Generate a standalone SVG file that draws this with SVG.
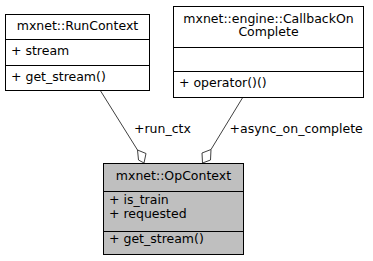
<svg xmlns="http://www.w3.org/2000/svg" width="373" height="261" viewBox="0 0 373 261">
  <style>
    .box { fill: #ffffff; stroke: #000000; stroke-width: 1; }
    .focus { fill: #bfbfbf; }
    .sep { stroke: #000000; stroke-width: 1; }
    .edge { fill: none; stroke: #404040; stroke-width: 1; }
    .head { fill: #ffffff; stroke: #404040; stroke-width: 1; }
    text { font-family: "DejaVu Sans", "Liberation Sans", sans-serif; font-size: 12.5px; fill: #000000; }
    .c { text-anchor: middle; }
  </style>
  <rect width="373" height="261" fill="#ffffff"/>

  <g id="edges">
    <g id="edge-run_ctx">
      <path class="edge" d="M100,90 L137.5,150"/>
      <polygon class="head" points="137.5,150 146,153.5 144,163 138.5,160"/>
      <text x="134" y="133">+run_ctx</text>
    </g>
    <g id="edge-async_on_complete">
      <path class="edge" d="M243,97 L211,149.5"/>
      <polygon class="head" points="211,149.5 202,153 202.5,163 210.5,160"/>
      <text x="229.5" y="133">+async_on_complete</text>
    </g>
  </g>

  <g id="node-RunContext">
    <rect class="box" x="5.5" y="14.5" width="144" height="76"/>
    <line class="sep" x1="5.5" y1="39.5" x2="149.5" y2="39.5"/>
    <line class="sep" x1="5.5" y1="65.5" x2="149.5" y2="65.5"/>
    <text class="c" x="77.5" y="30">mxnet::RunContext</text>
    <text x="11" y="54.5">+ stream</text>
    <text x="11" y="80.5">+ get_stream()</text>
  </g>

  <g id="node-CallbackOnComplete">
    <rect class="box" x="173.5" y="6.5" width="190" height="91"/>
    <line class="sep" x1="173.5" y1="47.5" x2="363.5" y2="47.5"/>
    <line class="sep" x1="173.5" y1="71.5" x2="363.5" y2="71.5"/>
    <text class="c" x="268.5" y="22.5">mxnet::engine::CallbackOn</text>
    <text class="c" x="268.5" y="36">Complete</text>
    <text x="179" y="87">+ operator()()</text>
  </g>

  <g id="node-OpContext">
    <rect class="box focus" x="103.5" y="163.5" width="140" height="91"/>
    <line class="sep" x1="103.5" y1="191.5" x2="243.5" y2="191.5"/>
    <line class="sep" x1="103.5" y1="231.5" x2="243.5" y2="231.5"/>
    <text class="c" x="173.5" y="180">mxnet::OpContext</text>
    <text x="109" y="204">+ is_train</text>
    <text x="109" y="218">+ requested</text>
    <text x="109" y="243">+ get_stream()</text>
  </g>
</svg>
